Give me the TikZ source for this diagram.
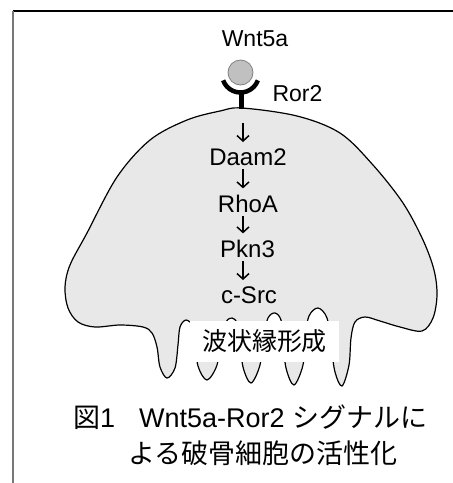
\documentclass[tikz,border=0pt]{standalone}
\usepackage{fontspec}
\setmainfont{Liberation Sans}
\newfontfamily\jpfont{Noto Sans CJK JP}
\usetikzlibrary{arrows.meta,calc}
\definecolor{cellfill}{HTML}{E8E8E8}
\definecolor{ligand}{HTML}{C0C0C0}
\definecolor{ligandedge}{HTML}{7F7F7F}
\definecolor{framegray}{HTML}{777777}
\begin{document}
\begin{tikzpicture}[x=1pt,y=-1pt,
  lbl/.style={inner sep=0pt, font=\fontsize{24}{28}\selectfont},
  toplbl/.style={inner sep=0pt, font=\fontsize{23}{27}\selectfont},
  sig/.style={-{Straight Barb[length=5.5pt,width=12pt]}, line width=1.5pt},
  receptor/.style={line width=4.5pt},
  captext/.style={inner sep=0pt, anchor=base west, font=\fontsize{27}{31}\selectfont},
]
\useasboundingbox (0,0) rectangle (453,483);

% frame
\draw[line width=2pt, black] (13,11) -- (453,11);
\draw[line width=2pt, framegray] (13,11) -- (13,483);

% osteoclast body with its ruffled border
\draw[line width=1.2pt, fill=cellfill] plot[smooth cycle, tension=0.55] coordinates {
  (242,108) (297,116) (340,133) (373,165) (403,203) (423,240) (434,270)
  (437,295) (433,318) (422,331) (400,327) (380,321) (365,317) (355,322)
  (351,338) (349,365) (342,386) (335,372) (331,345) (327,318) (318,308)
  (309,316) (305,338) (303,365) (294,385) (286,368) (283,340) (281,320)
  (275,313) (268,318) (263,338) (260,365) (251,383) (243,367) (240,340)
  (237,323) (232,318) (226,322) (220,340) (217,365) (207,380) (198,366)
  (195,340) (193,326) (186,320) (180,327) (178,345) (175,368) (167,378)
  (160,367) (157,347) (152,333) (143,327) (120,325) (95,327) (78,322)
  (68,308) (65,287) (70,265) (87,233) (117,177) (150,140) (187,120)
  (220,111)};

% ruffled border label
\node[fill=white, inner sep=0pt, minimum width=149pt, minimum height=41pt,
      font=\jpfont\fontsize{25}{28}\selectfont] (ruffle) at (264.5,341.5) {波状縁形成};

% receptor and ligand
\coordinate (celltop) at (241.5,109);
\coordinate (cupbot) at (241.5,92);
\coordinate (cupc) at (240.5,74);
\draw[receptor] (cupbot) -- (celltop);
\draw[receptor] ([shift={(200:18.5pt)}]cupc) arc[start angle=200, end angle=340, radius=18.5pt];
\node[circle, inner sep=0pt, minimum size=25pt, fill=ligand, draw=ligandedge, line width=0.8pt]
  (wntball) at (240.5,72.5) {};
\node[toplbl, anchor=base] (wnt) at (255,46) {Wnt5a};
\node[toplbl, anchor=base] (ror) at (297.5,101) {Ror2};

% signalling cascade
\node[lbl, anchor=base] (daam) at (248,165) {Daam2};
\node[lbl, anchor=base] (rhoa) at (248,212) {RhoA};
\node[lbl, anchor=base] (pkn) at (247.5,257) {Pkn3};
\node[lbl, anchor=base] (src) at (249,303) {c-Src};
\coordinate (col) at (243,0);
\draw[sig] ($(celltop -| col)+(0,14)$) -- ($(daam.north -| col)+(0,-6)$);
\draw[sig] ($(daam.base -| col)+(0,4)$) -- ($(rhoa.north -| col)+(0,-6)$);
\draw[sig] ($(rhoa.base -| col)+(0,4)$) -- ($(pkn.north -| col)+(0,-6)$);
\draw[sig] ($(pkn.base -| col)+(0,4)$) -- ($(src.north -| col)+(0,-6)$);

% caption
\node[captext] (cap1) at (73,427) {{\jpfont 図}1\hspace{24pt}Wnt5a-Ror2 {\jpfont シグナルに}};
\node[captext] (cap2) at (128,463) {\jpfont よる破骨細胞の活性化};
\end{tikzpicture}
\end{document}
